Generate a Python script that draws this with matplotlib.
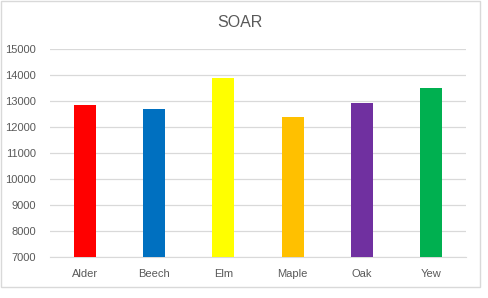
import matplotlib
matplotlib.use("Agg")
import matplotlib.pyplot as plt
from matplotlib.patches import Rectangle

trees = ["Alder", "Beech", "Elm", "Maple", "Oak", "Yew"]
soar = [12850, 12700, 13900, 12390, 12940, 13500]
colors = ["#FF0000", "#0070C0", "#FFFF00", "#FFC000", "#7030A0", "#00B050"]
yticks = list(range(7000, 15001, 1000))

plt.rcParams['font.family'] = ['Liberation Sans', 'DejaVu Sans']

fig = plt.figure(figsize=(4.88, 2.98), dpi=100)
ax = fig.add_axes([50 / 488, 41 / 298, 416 / 488, 208 / 298])

x = range(len(trees))
ax.bar(x, soar, width=0.32, color=colors, zorder=3)

ax.set_xlim(-0.5, len(trees) - 0.5)
ax.set_ylim(7000, 15000)
ax.set_yticks(yticks)
ax.set_xticks(list(x))
ax.set_xticklabels(trees)
ax.grid(axis="y", color="#D9D9D9", linewidth=0.9, zorder=0)
for s in ["top", "right", "left"]:
    ax.spines[s].set_visible(False)
ax.spines["bottom"].set_color("#D9D9D9")
ax.tick_params(length=0, labelsize=8, colors="#595959")
ax.tick_params(axis="y", pad=10)
ax.tick_params(axis="x", pad=8.5)

fig.text(240 / 488, 0.925, "SOAR", ha="center", va="center", fontsize=11.5, color="#595959")

# chart border (Excel-style box, not the full image)
fig.patches.append(Rectangle((0.5 / 488, 11 / 298), 479 / 488, 286.5 / 298,
                             transform=fig.transFigure, fill=False,
                             edgecolor="#D9D9D9", linewidth=1))

fig.savefig("out.png", dpi=100)
